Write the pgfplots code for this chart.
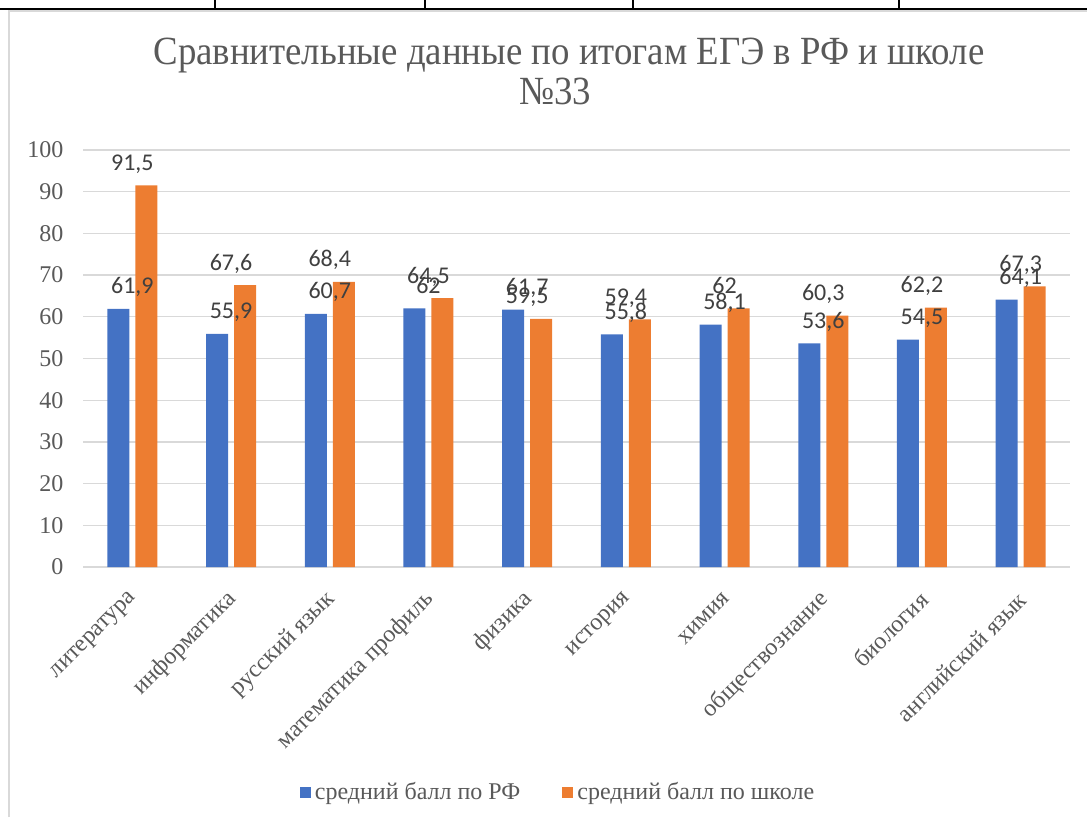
\documentclass[border=0pt]{standalone}
\usepackage{fontspec}
\setmainfont{Liberation Serif}
\newfontfamily\serfont{Liberation Serif}
\newfontfamily\labfont{Carlito}
\usepackage{pgfplots}
\pgfplotsset{compat=1.18}
\definecolor{rfblue}{HTML}{4472C4}
\definecolor{schorange}{HTML}{ED7D31}
\definecolor{txtgray}{HTML}{595959}
\definecolor{lblgray}{HTML}{404040}
\definecolor{gridgray}{HTML}{D9D9D9}

\pgfplotstableread{
idx rf  school
0   61.9 91.5
1   55.9 67.6
2   60.7 68.4
3   62   64.5
4   61.7 59.5
5   55.8 59.4
6   58.1 62
7   53.6 60.3
8   54.5 62.2
9   64.1 67.3
}\egedata

\begin{document}
\begin{tikzpicture}[x=1pt,y=1pt]
\useasboundingbox (0,0) rectangle (1087,817);
% table borders above the chart
\draw[black, line width=1.5pt] (0,808) -- (1087,808);
\foreach \xx in {215,425,633,899} \draw[black, line width=1.2pt] (\xx,817) -- (\xx,808);
\draw[gridgray, line width=1.2pt] (9,0) -- (9,806) -- (1087,806);

% title, two lines
\node[txtgray, anchor=base, xscale=0.92, font=\serfont\fontsize{40}{40}\selectfont] at (569,752) {Сравнительные данные по итогам ЕГЭ в РФ и школе};
\node[txtgray, anchor=base, xscale=0.92, font=\serfont\fontsize{40}{40}\selectfont] at (555,712) {№33};

\begin{axis}[
  at={(83pt,250pt)}, anchor=south west,
  scale only axis, width=987pt, height=417pt,
  xmin=-0.5, xmax=9.5, ymin=0, ymax=100,
  ytick={0,10,...,100},
  xtick=data,
  xticklabels={литература,информатика,русский язык,математика профиль,физика,история,химия,обществознание,биология,английский язык},
  axis line style={draw=none},
  major tick length=0pt,
  ymajorgrids, grid style={gridgray, line width=1.3pt},
  /pgf/number format/assume math mode=true,
  yticklabel style={font=\serfont\fontsize{24}{24}\selectfont, txtgray, anchor=east, xshift=-16pt},
  xticklabel style={font=\serfont\fontsize{24}{24}\selectfont, txtgray, inner sep=0pt, xshift=2pt, yshift=-29pt, rotate=45, anchor=east},
  nodes near coords={\pgfmathprintnumber[use comma, fixed, precision=1]{\pgfplotspointmeta}},
  every node near coord/.append style={font=\labfont\fontsize{24}{24}\selectfont, lblgray, anchor=base, yshift=15pt},
  legend style={at={(0.4813,-0.5396)}, anchor=center, draw=none, legend columns=2,
    font=\serfont\fontsize{24}{24}\selectfont, text=txtgray,
    /tikz/every odd column/.append style={column sep=2pt},
    /tikz/every even column/.append style={column sep=40pt}},
  legend image code/.code={\fill[#1] (0pt,-5.5pt) rectangle (11pt,5.5pt);},
]
\addplot[ybar, bar width=22pt, bar shift=-14pt, fill=rfblue, draw=none] table[x=idx, y=rf] {\egedata};
\addlegendentry{средний балл по РФ}
\addplot[ybar, bar width=22pt, bar shift=14pt, fill=schorange, draw=none] table[x=idx, y=school] {\egedata};
\addlegendentry{средний балл по школе}
\end{axis}
\end{tikzpicture}
\end{document}
